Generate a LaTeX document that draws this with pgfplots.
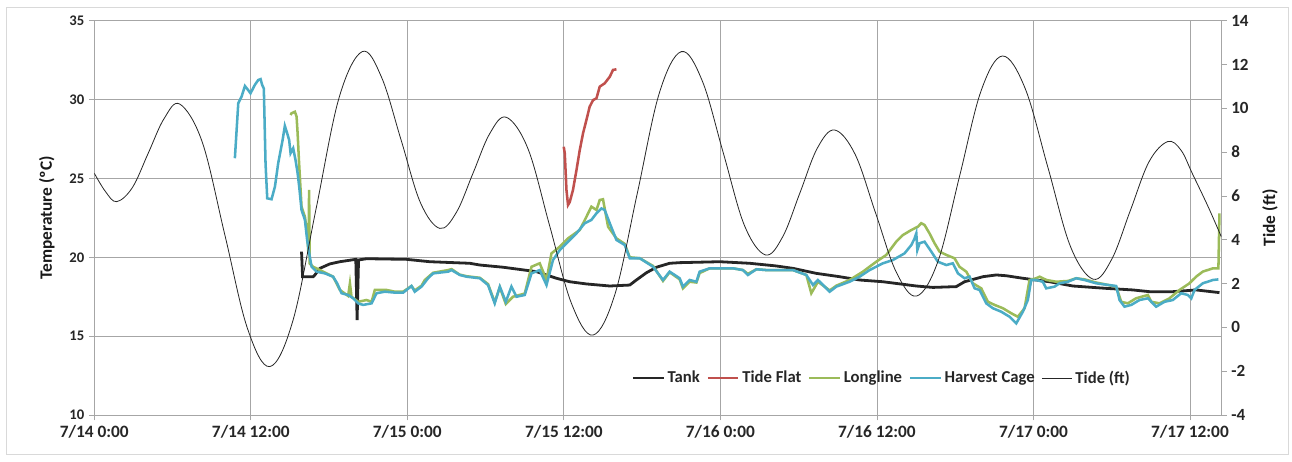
\documentclass[border=0pt]{standalone}
\usepackage{pgfplots}
\usepackage{pgfplotstable}
\pgfplotsset{compat=1.18}
\usepackage{fontspec}
\setmainfont{Carlito}
\definecolor{tankc}{HTML}{262626}
\definecolor{flatc}{HTML}{C0504D}
\definecolor{longc}{HTML}{9BBB59}
\definecolor{cagec}{HTML}{4BACC6}
\definecolor{gridc}{HTML}{A6A6A6}
\definecolor{framec}{HTML}{D9D9D9}
\newcommand{\tickfont}{\fontsize{11}{13}\selectfont\bfseries}
\newcommand{\rtickfont}{\fontsize{12.8}{14}\selectfont\bfseries}
\newcommand{\labfont}{\fontsize{13}{15}\selectfont\bfseries}

\pgfplotstableread{
h T
15.89 20.36
15.97 18.77
16.78 18.77
16.91 18.88
17.30 19.30
18.06 19.58
18.83 19.72
19.72 19.83
20.05 19.87
20.15 16.02
20.26 19.83
20.87 19.91
23.94 19.87
25.72 19.72
28.79 19.62
29.56 19.51
31.34 19.37
33.90 19.09
35.43 18.67
36.45 18.45
37.73 18.31
39.52 18.18
41.05 18.24
41.56 18.56
42.33 19.02
43.10 19.37
44.11 19.62
44.88 19.66
47.95 19.72
50.25 19.62
52.29 19.45
53.56 19.30
55.36 18.98
57.14 18.77
58.67 18.56
60.46 18.45
63.02 18.18
64.29 18.09
66.08 18.14
66.72 18.45
68.13 18.77
69.15 18.88
69.92 18.83
71.19 18.67
73.23 18.45
75.02 18.18
77.58 18.03
79.62 17.93
80.90 17.82
82.68 17.82
84.47 17.93
86.26 17.76
}\tank

\pgfplotstableread{
h T
35.99 27.01
36.07 26.60
36.20 24.27
36.32 23.32
36.45 23.50
36.70 24.27
36.97 25.54
37.22 26.80
37.47 27.86
37.73 28.71
37.98 29.55
38.24 29.97
38.50 30.08
38.75 30.82
39.13 31.03
39.52 31.45
39.77 31.88
40.03 31.92
}\flat

\pgfplotstableread{
h T
15.05 29.02
15.12 29.13
15.38 29.23
15.51 28.92
15.59 27.86
15.69 26.17
15.89 23.20
16.15 22.57
16.32 21.52
16.42 20.20
16.47 24.27
16.52 19.60
16.78 19.40
17.30 19.19
18.31 18.77
18.83 17.93
19.46 17.55
19.60 18.35
19.72 17.50
20.23 17.18
20.87 17.29
21.26 17.18
21.51 17.93
22.40 17.93
23.04 17.82
23.68 17.82
24.32 18.18
24.57 17.90
25.09 18.20
25.34 18.56
25.98 19.02
27.13 19.19
27.39 19.25
28.02 18.90
28.54 18.80
29.56 18.70
30.19 18.30
30.70 17.15
31.09 18.10
31.55 17.04
32.10 17.50
33.00 17.70
33.52 19.40
34.15 19.62
34.67 18.56
35.05 20.25
35.69 20.67
36.32 21.20
37.22 21.73
37.73 22.57
38.11 23.21
38.50 23.00
38.75 23.63
39.00 23.68
39.39 21.94
40.03 21.20
40.67 20.85
41.05 20.00
41.82 19.94
42.84 19.45
43.60 18.50
44.11 19.05
44.88 18.60
45.13 18.03
45.65 18.45
46.16 18.40
46.41 19.00
47.18 19.30
48.97 19.30
49.73 19.19
50.11 18.95
50.76 19.24
51.52 19.19
53.56 19.19
54.59 18.88
54.97 17.72
55.48 18.45
56.38 17.90
56.89 18.20
57.90 18.56
58.93 19.09
59.95 19.72
60.72 20.15
61.48 20.99
61.99 21.41
62.64 21.73
63.14 21.94
63.40 22.16
63.65 22.05
64.03 21.52
64.42 20.89
64.80 20.36
65.32 20.15
65.95 19.94
66.33 19.40
66.85 19.09
67.36 18.35
68.00 18.03
68.51 17.18
69.02 16.98
69.66 16.77
70.30 16.45
70.80 16.23
71.32 16.77
71.70 18.56
72.21 18.67
72.47 18.77
73.00 18.56
73.75 18.45
74.64 18.50
75.28 18.67
75.92 18.60
76.81 18.40
78.34 18.14
78.73 17.18
79.23 17.08
79.87 17.40
80.77 17.61
81.03 17.18
81.67 17.08
82.43 17.40
83.20 17.93
83.96 18.35
84.47 18.77
84.98 19.09
85.75 19.30
86.18 19.30
86.26 22.79
}\longline

\pgfplotstableread{
h T
10.78 26.28
11.04 29.77
11.29 30.18
11.55 30.86
11.80 30.60
11.98 30.40
12.31 30.93
12.57 31.24
12.75 31.30
12.87 30.93
13.00 30.70
13.13 25.96
13.26 23.74
13.59 23.68
13.85 24.48
14.10 25.96
14.44 27.44
14.61 28.33
14.79 27.86
14.94 27.44
15.05 26.60
15.25 26.91
15.43 26.17
15.59 25.33
15.71 24.48
15.89 23.00
16.15 22.37
16.32 21.10
16.48 20.25
16.66 19.40
17.04 19.09
17.68 18.98
18.31 18.77
18.62 18.35
18.96 17.72
19.46 17.61
19.85 17.40
20.23 17.08
20.61 16.98
21.26 17.08
21.64 17.72
22.28 17.82
23.04 17.76
23.68 17.76
24.32 18.18
24.57 17.82
25.09 18.14
25.59 18.67
25.98 18.98
27.13 19.09
27.39 19.19
28.02 18.88
28.54 18.77
29.56 18.67
30.19 18.24
30.70 17.08
31.09 18.14
31.55 17.18
31.98 18.14
32.37 17.50
33.00 17.61
33.52 18.98
34.15 19.19
34.67 18.24
35.17 19.83
35.69 20.46
36.32 20.99
36.97 21.52
37.60 22.16
38.11 22.37
38.50 22.79
38.88 23.10
39.13 23.00
39.52 22.16
40.03 21.10
40.67 20.78
41.05 19.94
41.82 19.94
42.84 19.40
43.60 18.56
44.11 19.09
44.88 18.67
45.13 18.14
45.65 18.56
46.16 18.45
46.41 19.09
47.18 19.30
48.97 19.30
49.73 19.19
50.11 18.88
50.76 19.24
51.52 19.19
53.56 19.19
54.59 18.88
55.10 18.24
55.48 18.56
56.38 17.82
56.89 18.14
57.90 18.45
58.67 18.77
59.44 19.19
60.46 19.62
61.23 19.83
62.12 20.25
62.64 20.78
62.89 21.20
63.02 21.52
63.10 20.46
63.27 20.89
63.65 20.99
64.17 20.36
64.67 19.72
65.32 19.51
65.82 19.62
66.21 18.98
66.72 18.67
67.10 18.77
67.49 18.03
67.87 17.93
68.38 17.08
68.89 16.77
69.53 16.55
70.17 16.23
70.68 15.81
71.19 16.55
71.57 17.29
71.83 18.56
72.21 18.56
72.72 18.45
72.98 18.03
73.62 18.14
74.00 18.35
74.64 18.45
75.28 18.67
75.92 18.56
76.81 18.35
78.34 18.18
78.60 17.29
78.98 16.87
79.50 16.98
80.13 17.29
80.77 17.40
81.41 16.87
82.05 17.18
82.68 17.29
83.33 17.72
83.84 17.61
84.10 17.40
84.35 17.93
84.98 18.35
85.75 18.56
86.18 18.60
}\cage

\pgfplotstableread{
h ft
0.00 7.04
0.86 6.20
1.72 5.74
2.93 6.39
4.15 7.97
5.36 9.54
6.57 10.19
8.29 8.44
10.02 4.20
11.74 -0.04
13.46 -1.79
15.23 0.31
17.00 5.40
18.77 10.49
20.54 12.59
22.03 11.41
23.52 8.56
25.00 5.70
26.49 4.52
27.77 5.26
29.05 7.06
30.32 8.85
31.60 9.59
33.26 8.14
34.92 4.62
36.58 1.10
38.24 -0.35
39.93 1.54
41.63 6.12
43.32 10.70
45.01 12.59
46.62 11.24
48.23 7.95
49.84 4.66
51.45 3.31
52.78 4.14
54.11 6.16
55.43 8.18
56.76 9.01
58.33 7.90
59.90 5.22
61.47 2.54
63.04 1.43
64.69 3.03
66.34 6.91
67.98 10.79
69.63 12.39
71.37 10.90
73.11 7.30
74.84 3.69
76.58 2.20
78.01 3.12
79.43 5.34
80.86 7.56
82.28 8.48
83.30 8.10
84.20 7.00
85.40 5.50
86.40 4.14
}\tide

\pgfplotsset{
  common/.style={
    scale only axis, width=845.25pt, height=295.7pt,
    xmin=0, xmax=86.4,
    axis line style={gridc, line width=0.6pt},
    tick style={gridc, line width=0.6pt},
    tick align=outside, major tick length=4pt,
    /pgf/number format/assume math mode=true,
    ylabel style={font=\labfont, text=black!90},
  }
}

\begin{document}
\begin{tikzpicture}
\useasboundingbox (-70.7pt,-34.5pt) rectangle (898.3pt,311.25pt);
\draw[framec, line width=0.75pt] (-65.5pt,-29.25pt) rectangle (895.8pt,305.25pt);
\begin{axis}[common,
  ymin=10, ymax=35,
  xtick={0,12,...,84},
  xticklabels={7/14 0:00,7/14 12:00,7/15 0:00,7/15 12:00,7/16 0:00,7/16 12:00,7/17 0:00,7/17 12:00},
  ytick={10,15,...,35},
  xtick pos=bottom, ytick pos=left,
  grid=major, grid style={gridc, line width=0.6pt},
  yticklabel style={font=\tickfont, text=black!85},
  xticklabel style={font=\fontsize{13}{15}\selectfont\bfseries, text=black!85},
  ylabel={Temperature (ºC)},
  ylabel style={at={(axis description cs:-0.042,0.5)}, anchor=center},
]
\addplot[tankc, line width=2.1pt] table[x=h,y=T] {\tank};
\addplot[flatc, line width=1.9pt] table[x=h,y=T] {\flat};
\addplot[longc, line width=1.9pt] table[x=h,y=T] {\longline};
\addplot[cagec, line width=1.9pt] table[x=h,y=T] {\cage};
\end{axis}
\begin{axis}[common,
  ymin=-4, ymax=14,
  ytick={-4,-2,...,14},
  axis x line=none, axis y line*=right,
  yticklabel style={font=\rtickfont, text=black!85},
  ylabel={Tide (ft)},
  ylabel style={at={(axis description cs:1.0432,0.5)}, anchor=center},
  legend style={at={(0.699,0.094)}, anchor=center, draw=none, fill=none,
    font=\fontsize{12.5}{14}\selectfont\bfseries, text=black!85,
    /tikz/every even column/.append style={column sep=3pt}},
  legend columns=-1,
  legend image code/.code={\draw[#1] (0pt,0pt) -- (23pt,0pt);},
]
\addlegendimage{tankc, line width=2.1pt}
\addlegendentry{Tank}
\addlegendimage{flatc, line width=1.9pt}
\addlegendentry{Tide Flat}
\addlegendimage{longc, line width=1.9pt}
\addlegendentry{Longline}
\addlegendimage{cagec, line width=1.9pt}
\addlegendentry{Harvest Cage}
\addplot[black!85, line width=0.6pt, smooth, tension=0.6] table[x=h,y=ft] {\tide};
\addlegendentry{Tide (ft)}
\end{axis}
\end{tikzpicture}
\end{document}
